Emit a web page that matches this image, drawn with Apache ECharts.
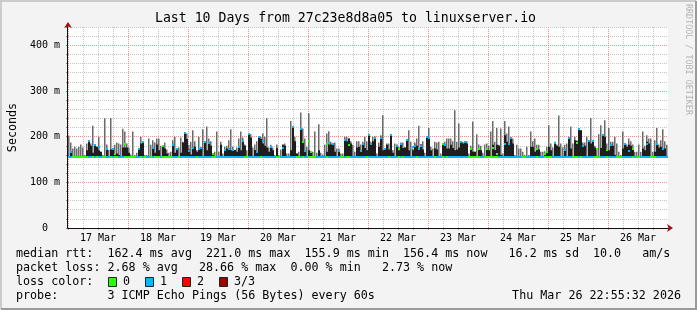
<!DOCTYPE html>
<html><head><meta charset="utf-8">
<script src="https://cdn.jsdelivr.net/npm/echarts@6/dist/echarts.min.js"></script>
<style>html,body{margin:0;padding:0;background:#f3f3f3}#c{width:697px;height:310px}</style>
</head><body><div id="c"></div>
<script>
// ---- data ----
const dayLabels = ['17 Mar','18 Mar','19 Mar','20 Mar','21 Mar','22 Mar','23 Mar','24 Mar','25 Mar','26 Mar'];
const yTickLabels = {0:'0  ',100:'100 m',200:'200 m',300:'300 m',400:'400 m'};
const slotHours = 0.8;       // one value per 48 min
const medianFloor = 156.2;   // ms, median line when not elevated
const smokeFloor = 156;      // ms, lowest ping

// top of the light smoke (max ping), ms
const smokeMax = [
202,187,174,178,174,178,183,176,160,185, 190,185,224,182,178,200,167,160,240,183, 171,241,172,182,187,185,183,217,211,185, 176,161,211,160,165,172,200,189,160,160, 196,182,192,187,196,196,180,180,187,172,
165,167,192,200,174,176,198,189,207,207, 182,189,214,190,171,200,176,216,189,222, 196,190,163,167,211,167,189,163,178,180, 192,216,178,171,176,196,211,198,183,170, 205,205,176,183,190,200,200,207,200,240,
176,182,176,160,183,160,172,183,185,163, 163,234,222,200,163,167,253,218,196,178, 251,167,167,211,165,227,165,161,183,207, 212,189,185,187,174,174,163,163,200,200, 196,190,182,167,190,190,183,189,200,190,
203,189,200,200,163,187,203,247,174,185, 185,203,171,185,182,178,187,187,176,192, 214,189,174,187,196,224,183,190,165,200, 219,178,174,189,187,189,163,185,189,196, 196,196,190,258,189,229,190,189,189,190,
163,180,233,167,205,183,180,165,183,185, 180,211,234,189,219,182,218,163,234,207, 222,198,196,160,182,174,174,167,160,178, 160,211,190,196,182,182,167,167,168,178, 225,185,176,189,183,246,185,176,182,185,
200,222,185,200,192,216,214,187,187,200, 190,241,190,180,174,205,225,203,236,185, 219,189,189,200,185,167,160,211,185,183, 196,190,183,167,167,183,167,211,180,203, 196,196,167,192,219,183,192,216,190,182
];
// top of the dense (dark) smoke, ms; 0 = none
const smokeDense = [
0,167,0,0,0,0,0,0,0,170, 190,180,165,182,178,170,167,0,0,174, 0,172,172,163,163,160,0,176,176,176, 165,0,0,0,0,172,185,189,0,0, 0,0,176,165,183,170,0,180,174,163,
0,0,183,165,174,0,165,187,207,195, 172,161,178,178,167,174,176,0,189,170, 185,180,163,0,0,0,182,0,171,174, 174,170,171,171,167,178,170,189,180,0, 205,198,0,171,167,200,195,185,180,176,
167,178,170,0,175,0,0,182,180,0, 0,170,222,190,163,0,218,189,167,0, 170,167,0,0,0,170,0,0,0,167, 183,183,183,167,0,167,0,0,192,190, 196,185,0,0,176,178,167,183,175,170,
203,183,190,200,0,178,200,170,174,182, 172,203,165,0,182,170,183,175,176,192, 170,0,170,182,180,172,183,172,0,200, 196,170,0,174,172,0,0,183,182,174, 174,182,175,170,172,176,187,185,189,185,
0,174,167,167,0,172,170,0,0,174, 170,0,182,171,182,180,160,0,203,189, 182,198,185,0,0,0,0,0,0,0, 0,178,178,167,174,172,0,0,163,167, 178,170,0,185,180,178,0,0,171,0,
196,174,0,192,190,214,214,182,180,0, 190,185,189,176,0,0,175,203,200,172, 170,182,180,160,0,0,0,174,185,178, 182,180,171,0,0,0,0,174,170,189, 185,0,0,167,183,176,178,174,174,0
];
// elevated median, ms; 0 = at medianFloor
const medianHigh = [
0,167,0,0,0,0,0,0,0,0, 190,0,0,182,0,178,0,0,0,174, 0,0,172,161,0,0,0,0,183,0, 0,0,0,0,0,172,0,189,0,0, 0,0,176,0,0,0,0,180,0,0,
0,0,182,0,172,0,0,0,207,0, 168,0,176,0,0,174,176,0,189,0, 185,0,163,0,0,0,0,0,171,0, 174,0,170,0,0,178,0,190,0,0, 205,0,0,0,167,200,0,190,0,0,
0,178,0,0,0,0,0,176,0,0, 0,0,222,0,0,0,216,189,168,0, 190,167,0,0,0,0,0,0,0,183, 185,0,183,0,0,168,0,0,192,0, 182,0,0,0,0,0,168,183,0,0,
203,183,0,198,0,0,198,0,174,0, 0,203,0,0,180,172,183,0,0,192, 0,0,178,180,0,174,180,0,0,200, 196,0,0,0,0,0,0,183,182,0, 0,0,0,0,0,0,189,0,189,0,
0,174,0,0,0,174,0,0,0,172, 0,0,176,0,161,0,0,0,183,0, 183,198,0,0,0,0,0,0,0,0, 0,0,0,0,174,0,0,0,163,167, 0,0,0,185,0,0,0,0,171,0,
196,0,0,0,185,216,0,180,0,0, 190,0,190,0,172,0,0,203,0,170, 0,182,0,0,0,0,0,0,183,0, 168,0,174,0,0,0,0,0,0,183, 0,0,0,0,183,0,0,174,0,0
];
// lost pings out of 3
const lossCount = [
1,1,0,0,0,0,0,0,0,0, 1,1,0,1,0,1,1,0,0,1, 1,0,1,0,0,1,1,1,0,0, 0,0,0,0,1,1,0,1,0,1, 1,0,1,0,0,0,1,0,0,0,
0,0,1,1,1,0,1,1,1,1, 1,1,1,1,0,1,1,1,1,1, 1,1,0,0,1,1,1,1,1,1, 1,1,1,1,1,1,1,1,0,0, 1,1,1,1,1,1,0,1,1,1,
1,1,1,1,0,0,1,1,1,1, 1,1,1,1,0,0,1,0,1,1, 0,0,0,0,1,1,1,1,1,0, 1,1,1,1,1,1,0,0,1,0, 0,1,1,1,1,1,1,1,1,0,
1,1,1,1,1,1,1,1,1,1, 0,1,1,1,1,0,1,0,1,1, 1,1,1,1,0,1,1,1,1,1, 1,1,1,0,1,1,1,0,1,0, 1,1,1,1,1,1,1,1,1,1,
0,0,0,0,0,0,1,1,0,0, 0,0,0,0,0,1,1,1,1,1, 1,1,1,1,1,1,1,0,0,1, 1,1,1,1,0,1,1,1,0,0, 0,0,1,1,1,1,1,1,1,1,
1,1,0,0,0,1,0,1,1,1, 1,1,1,0,0,0,1,1,1,0, 1,1,1,1,0,0,0,1,1,1, 1,1,0,1,0,0,1,1,1,1, 1,0,0,0,1,1,1,1,1,1
];
const lossColors = ['#26ff00','#00b8ff','#ff0000','#a00000'];
const lossLabels = ['0','1','2','3/3'];
const titleText = 'Last 10 Days from 27c23e8d8a05 to linuxserver.io';
const statRows = [
  'median rtt:  162.4 ms avg  221.0 ms max  155.9 ms min  156.4 ms now   16.2 ms sd  10.0   am/s',
  'packet loss: 2.68 % avg   28.66 % max  0.00 % min   2.73 % now'
];
const lossRowLabel = 'loss color:';
const probeRow = 'probe:       3 ICMP Echo Pings (56 Bytes) every 60s';
const dateText = 'Thu Mar 26 22:55:32 2026';
const creditText = 'RRDTOOL / TOBI OETIKER';

// ---- chart ----
const MONO = '"DejaVu Sans Mono", "Liberation Mono", monospace';
const quarterCats = [];
dayLabels.forEach(d => { for (let q = 0; q < 4; q++) quarterCats.push(d + ' ' + q); });

const smokeData = smokeMax.map((g, i) => [i * slotHours, g, smokeDense[i]]);
const medData = lossCount.map((l, i) => [i * slotHours, medianFloor, medianHigh[i], l]);

function rectBetween(api, t0, t1, vTop, vBot) {
  const a = api.coord([t0, vTop]), b = api.coord([t1, vBot]);
  return {x: a[0], y: a[1], width: b[0] - a[0], height: b[1] - a[1]};
}
function smokeItem(params, api) {
  const t0 = api.value(0), t1 = t0 + slotHours;
  const g = api.value(1), d = api.value(2);
  const light = rectBetween(api, t0, t1, g, smokeFloor);
  light.width = light.width * 0.75;  // thin max-ping spike
  const ch = [{type: 'rect', shape: light, style: {fill: '#6a6a6a'}}];
  if (d > smokeFloor) ch.push({type: 'rect', shape: rectBetween(api, t0, t1, d, smokeFloor), style: {fill: '#1e1e1e'}});
  return {type: 'group', children: ch};
}
function medItem(params, api) {
  const t0 = api.value(0), t1 = t0 + slotHours;
  const col = lossColors[api.value(3)];
  const ch = [];
  const mk = v => {
    const a = api.coord([t0, v]), b = api.coord([t1, v]);
    ch.push({type: 'rect', shape: {x: a[0], y: Math.round(a[1]) - 1, width: b[0] - a[0], height: 2}, style: {fill: col}});
  };
  mk(api.value(1));
  if (api.value(2) > 0) mk(api.value(2));
  return {type: 'group', children: ch};
}

const txt = (x, y, text, extra) => Object.assign({
  type: 'text', x: x, y: y, silent: true,
  style: Object.assign({text: text, font: '11.7px ' + MONO, fill: '#000', align: 'left', verticalAlign: 'middle', textAlign: 'left', textVerticalAlign: 'middle'}, extra || {})
});

const graphics = [
  {type: 'polyline', shape: {points: [[1, 309], [1, 1], [696, 1]]}, style: {stroke: '#cbcbcb', lineWidth: 2, fill: null}},
  {type: 'polyline', shape: {points: [[1, 309], [696, 309], [696, 1]]}, style: {stroke: '#9a9a9a', lineWidth: 2, fill: null}},
  txt(345.5, 19, titleText, {font: '13.2px ' + MONO, align: 'center', textAlign: 'center'}),
  Object.assign(txt(688, 4, creditText, {font: '8.4px ' + MONO, fill: '#b4b4b4'}), {rotation: -Math.PI / 2}),
  txt(16, 254, statRows[0]),
  txt(16, 268, statRows[1]),
  txt(16, 282, lossRowLabel),
  txt(16, 296, probeRow),
  txt(681, 296, dateText, {align: 'right', textAlign: 'right'})
];
const swX = [108, 145, 182, 219];
lossLabels.forEach((lab, k) => {
  graphics.push({type: 'rect', shape: {x: swX[k] + 0.5, y: 277.5, width: 8, height: 9}, style: {fill: lossColors[k], stroke: '#222', lineWidth: 1}});
  graphics.push(txt(swX[k] + 15, 282, lab));
});

const chart = echarts.init(document.getElementById('c'), null, {renderer: 'canvas'});
chart.setOption({
  animation: false,
  backgroundColor: '#f3f3f3',
  grid: {left: 68, right: 29, top: 27, bottom: 82, containLabel: false, outerBoundsMode: 'none',
    show: true, backgroundColor: '#ffffff', borderWidth: 0},
  xAxis: [
    {type: 'value', min: 0, max: dayLabels.length * 24, show: false},
    {type: 'category', data: quarterCats, position: 'bottom', boundaryGap: true, z: 1,
      axisLine: {show: true, symbol: ['none', 'arrow'], symbolSize: [6, 6], symbolOffset: [0, 5], lineStyle: {color: '#a01010', width: 0}},
      axisTick: {show: true, interval: 0, length: 2, lineStyle: {color: '#d09090'}},
      axisLabel: {show: false},
      splitLine: {show: true, interval: 0, showMinLine: false, showMaxLine: false, lineStyle: {color: '#c6c6c6', type: [1, 1], width: 1}}},
    {type: 'category', data: dayLabels, position: 'bottom', boundaryGap: true, z: 3,
      axisLine: {show: true, lineStyle: {color: '#111', width: 1}},
      axisTick: {show: false},
      axisLabel: {show: true, interval: 0, margin: 5, fontSize: 10, fontFamily: MONO, color: '#000'},
      splitLine: {show: true, interval: 0, showMinLine: true, showMaxLine: false, lineStyle: {color: '#f29090', type: [1, 1], width: 1}}}
  ],
  yAxis: [
    {type: 'value', min: 0, max: 440, interval: 20, position: 'left', offset: 1, z: 1,
      axisLine: {show: true, symbol: ['none', 'arrow'], symbolSize: [6, 6], symbolOffset: [0, 5], lineStyle: {color: '#a01010', width: 0}},
      axisTick: {show: true, length: 2, lineStyle: {color: '#888'}},
      axisLabel: {show: false},
      splitLine: {show: true, lineStyle: {color: '#c6c6c6', type: [1, 1], width: 1}}},
    {type: 'value', min: 0, max: 440, interval: 100, position: 'left', offset: 1, z: 3,
      name: 'Seconds', nameLocation: 'middle', nameRotate: 90, nameGap: 48,
      nameTextStyle: {fontFamily: MONO, fontSize: 11.7, color: '#000'},
      axisLine: {show: true, lineStyle: {color: '#111'}},
      axisTick: {show: false},
      axisLabel: {margin: 7, fontSize: 10, fontFamily: MONO, color: '#000',
        formatter: v => (yTickLabels[v] !== undefined ? yTickLabels[v] : '')},
      splitLine: {show: true, showMaxLine: false, lineStyle: {color: '#f29090', type: [1, 1], width: 1}}}
  ],
  series: [
    {type: 'custom', name: 'smoke', xAxisIndex: 0, yAxisIndex: 1, clip: true, data: smokeData, renderItem: smokeItem, z: 5},
    {type: 'custom', name: 'median', xAxisIndex: 0, yAxisIndex: 1, clip: true, data: medData, renderItem: medItem, z: 6}
  ],
  graphic: graphics
});
</script></body></html>
